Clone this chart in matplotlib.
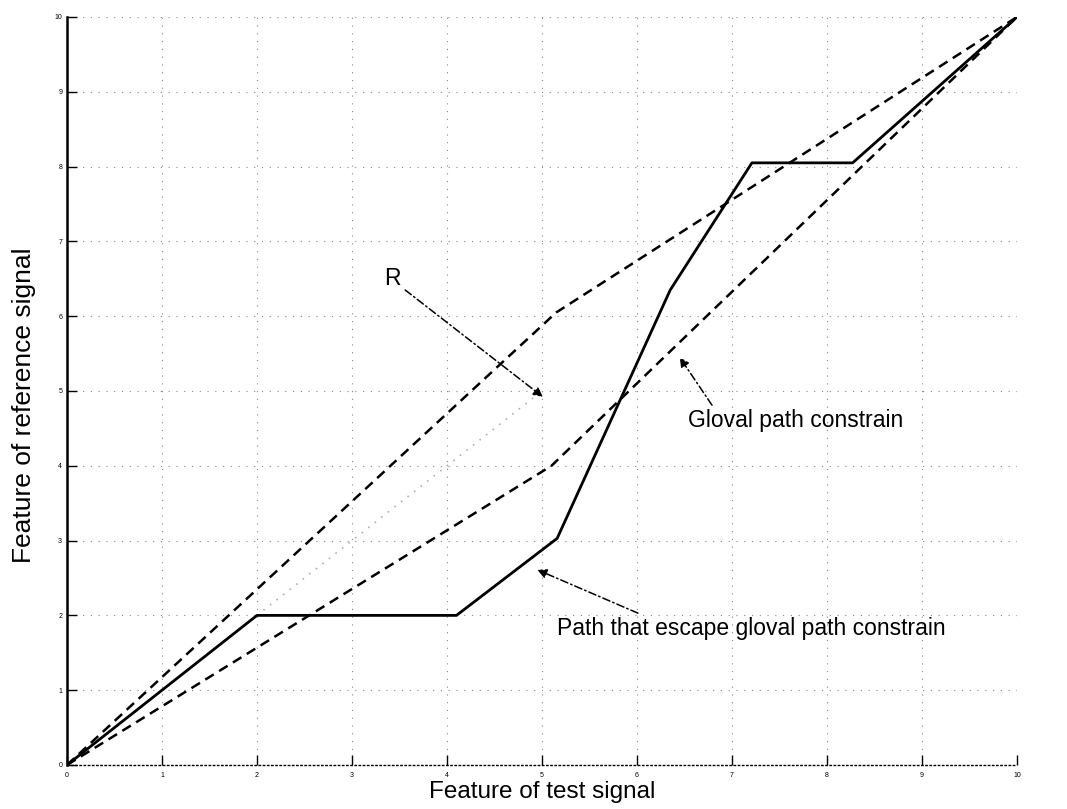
import matplotlib
matplotlib.use("Agg")
import matplotlib.pyplot as plt

plt.rcParams['font.family'] = ['Liberation Sans', 'DejaVu Sans']

# warping path (solid)
path_x = [0, 2, 4.1, 5.16, 6.35, 7.21, 8.27, 10]
path_y = [0, 2, 2, 3.03, 6.35, 8.05, 8.05, 10]

# global path constraint (upper / lower dashed)
upper_x = [0, 5.15, 10]
upper_y = [0, 6.05, 10]
lower_x = [0, 5.1, 10]
lower_y = [0, 4.0, 10]

# diagonal through region R
diag_x = [0, 5]
diag_y = [0, 5]

ticks = list(range(0, 11))

fig = plt.figure(figsize=(10.67, 8.09), dpi=100)
ax = fig.add_axes([0.0628, 0.0544, 0.8903, 0.9246])

ax.plot(diag_x, diag_y, color="#b0b0b0", linestyle=(0, (1, 4)), linewidth=1.2)
ax.plot(upper_x, upper_y, color="black", linestyle=(0, (4, 2.5)), linewidth=1.8)
ax.plot(lower_x, lower_y, color="black", linestyle=(0, (4, 2.5)), linewidth=1.8)
ax.plot(path_x, path_y, color="black", linewidth=2)

ax.set_xlim(0, 10)
ax.set_ylim(0, 10)
ax.set_xticks(ticks)
ax.set_yticks(ticks)
ax.tick_params(labelsize=5, length=7, width=1, direction="in")
ax.tick_params(axis="x", pad=5)
ax.grid(True, color="#888888", linestyle=(0, (1, 6)), linewidth=0.8)
for s in ["top", "right"]:
    ax.spines[s].set_visible(False)
ax.spines["left"].set_linewidth(1.8)
ax.spines["bottom"].set_linestyle((0, (1, 2)))
ax.spines["bottom"].set_linewidth(1)

ax.set_xlabel("Feature of test signal", fontsize=17.5)
ax.xaxis.set_label_coords(0.5, -0.021)
ax.set_ylabel("Feature of reference signal", fontsize=19)
ax.yaxis.set_label_coords(-0.033, 0.481)

arrow = dict(arrowstyle="-|>", linestyle=(0, (5, 2, 1, 2)), color="black",
             lw=1.1, mutation_scale=14, shrinkA=0, shrinkB=0)

# R
ax.text(3.42, 6.5, "R", fontsize=16.5, ha="center", va="center")
ax.annotate("", xy=(5.01, 4.92), xytext=(3.56, 6.35), arrowprops=arrow)

# global path constraint
ax.text(6.54, 4.61, "Gloval path constrain", fontsize=16.5, ha="left", va="center")
ax.annotate("", xy=(6.45, 5.45), xytext=(6.79, 4.81), arrowprops=arrow)

# escaping path
ax.text(5.16, 1.83, "Path that escape gloval path constrain", fontsize=16.5,
        ha="left", va="center")
ax.annotate("", xy=(4.95, 2.61), xytext=(6.01, 2.03), arrowprops=arrow)

fig.savefig("out.png", dpi=100)
